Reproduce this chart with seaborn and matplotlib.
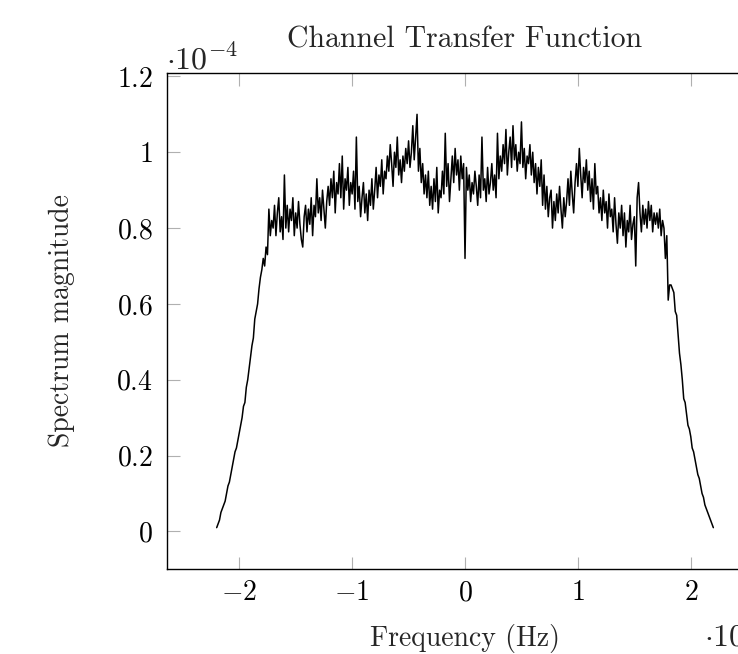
import matplotlib
import matplotlib.pyplot as plt
import numpy as np
import seaborn as sns

matplotlib.use("Agg")

# 周波数 (x 1e7 Hz) と スペクトル振幅 (x 1e-6、つまり 1e-4 の百分の一)
freq_min = -2.2
freq_max = 2.2
mag_hundredths = [
    # 立ち上がり -2.2 .. -1.7125
    1, 2, 3, 5, 6, 7, 8, 10, 12, 13, 15, 17, 19, 21, 22, 24, 26, 28, 30, 33,
    34, 38, 40, 43, 46, 49, 51, 56, 58, 60, 64, 67, 69, 72, 70, 75, 73, 85, 78, 82,
    # -1.7 .. 0
    80, 86, 78, 84, 88, 79, 83, 77,
    94, 80, 86, 79, 85, 82, 88, 78,
    84, 80, 87, 81, 77, 75, 83, 86,
    79, 85, 81, 88, 78, 86, 83, 93,
    84, 88, 82, 90, 85, 80, 87, 91,
    86, 93, 88, 95, 84, 92, 89, 97,
    88, 99, 85, 93, 90, 96, 86, 92,
    89, 95, 85, 104, 87, 91, 83, 88,
    92, 84, 89, 82, 90, 86, 93, 85,
    90, 96, 88, 94, 91, 98, 89, 95,
    93, 99, 95, 102, 97, 91, 100, 96,
    104, 94, 98, 92, 99, 95, 101, 97,
    103, 96, 100, 107, 98, 104, 110, 95,
    101, 92, 97, 89, 94, 88, 95, 86,
    91, 85, 93, 87, 96, 84, 90, 88,
    95, 89, 105, 91, 97, 87, 93, 99,
    92, 101, 94, 98, 90, 99, 93, 97,
    # 0 .. 1.7
    72, 96, 90, 94, 87, 92, 89, 95,
    91, 86, 94, 88, 104, 90, 93, 87,
    96, 89, 92, 97, 90, 94, 88, 105,
    93, 99, 95, 102, 97, 106, 94, 100,
    104, 96, 107, 98, 102, 95, 100, 97,
    108, 96, 101, 93, 99, 97, 102, 94,
    100, 92, 97, 89, 96, 91, 98, 86,
    94, 85, 91, 83, 88, 90, 80, 87,
    82, 89, 84, 91, 85, 80, 88, 83,
    87, 93, 86, 95, 89, 84, 92, 97,
    91, 101, 94, 88, 96, 92, 98, 90,
    95, 87, 93, 85, 97, 89, 91, 84,
    88, 82, 90, 84, 87, 80, 89, 83,
    85, 79, 88, 81, 76, 84, 80, 86,
    78, 84, 75, 82, 79, 86, 77, 81,
    83, 70, 88, 92, 84, 79, 86, 81,
    85, 80, 87, 82, 86, 79, 84, 81,
    # 立ち下がり 1.7 .. 2.2
    84, 80, 85, 78, 82, 80, 72, 78,
    61, 65, 65, 64, 63, 58, 57, 52,
    47, 44, 40, 35, 34, 31, 28, 27,
    25, 22, 21, 19, 17, 15, 14, 12,
    10, 9, 7, 6, 5, 4, 3, 2, 1,
]
x_ticks = [-2, -1, 0, 1, 2]
y_ticks = [0, 0.2, 0.4, 0.6, 0.8, 1, 1.2]
y_tick_labels = ["0", "0.2", "0.4", "0.6", "0.8", "1", "1.2"]

mag = np.array(mag_hundredths) / 100.0
freq = np.linspace(freq_min, freq_max, len(mag))

sns.set_theme(style="ticks")
plt.rcParams["font.family"] = "cmr10"
plt.rcParams["mathtext.fontset"] = "cm"
plt.rcParams["axes.formatter.use_mathtext"] = True

fig = plt.figure(figsize=(7.38, 6.54), dpi=100)
# 右端は元画像と同じく図の外にはみ出す
ax = fig.add_axes([0.2263, 0.13, 0.8076, 0.7584])

sns.lineplot(x=freq, y=mag, color="black", linewidth=1.1, ax=ax, sort=False)

ax.set_xlim(-2.64, 2.64)
ax.set_ylim(-0.099, 1.209)

ax.set_xticks(x_ticks)
ax.set_xticklabels([f"${t}$" for t in x_ticks])
ax.set_yticks(y_ticks)
ax.set_yticklabels([f"${t}$" for t in y_tick_labels])

ax.tick_params(axis="both", direction="in", top=True, right=True,
               length=9, width=0.8, color="#b0b0b0", labelsize=20,
               labelcolor="black")
ax.tick_params(axis="y", pad=10)
ax.tick_params(axis="x", pad=8)
for s in ax.spines.values():
    s.set_color("black")
    s.set_linewidth(1.0)
    s.set_visible(True)

ax.set_title("Channel Transfer Function", fontsize=21.5, pad=18)
ax.set_xlabel("Frequency (Hz)", fontsize=20, labelpad=13)
ax.set_ylabel("Spectrum magnitude", fontsize=20, labelpad=30)

# pgfplots 風の指数ラベル
fig.text(166 / 738, 1 - 69 / 654, r"$\cdot 10^{-4}$", fontsize=23,
         ha="left", va="baseline")
fig.text(704 / 738, 1 - 646 / 654, r"$\cdot 10^{7}$", fontsize=23,
         ha="left", va="baseline")

plt.savefig("out.png", dpi=100)
plt.close()
